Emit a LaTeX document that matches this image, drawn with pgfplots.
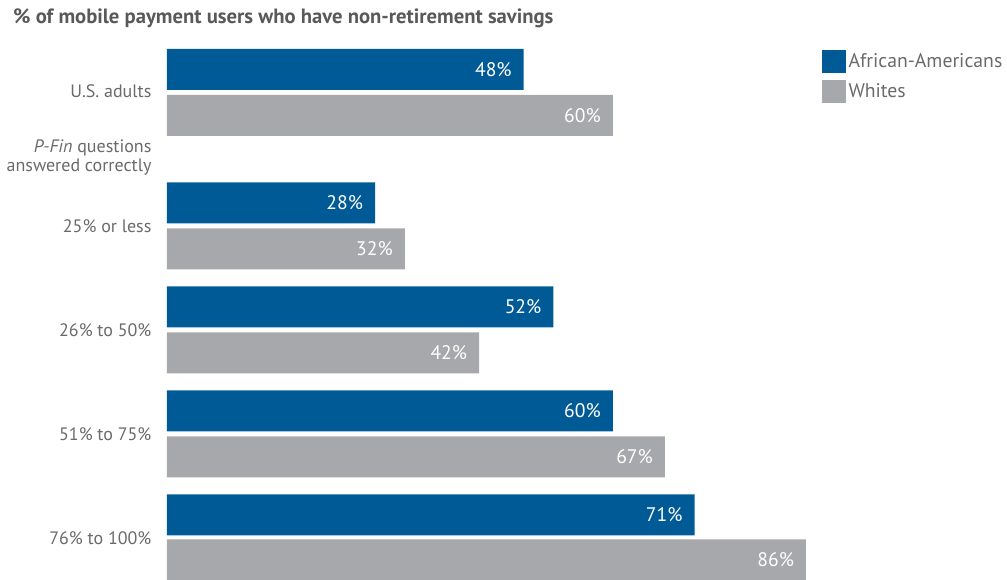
\documentclass[border=0pt]{standalone}
\usepackage{pgfplots}
\pgfplotsset{compat=1.18}
\usepackage{fontspec}
\setmainfont{PT Sans}
\definecolor{aablue}{RGB}{0,90,150}
\definecolor{whgray}{RGB}{167,168,171}
\definecolor{titlegray}{RGB}{88,89,91}
\definecolor{labgray}{RGB}{105,106,108}
\begin{document}
\begin{tikzpicture}
\begin{axis}[
    scale only axis,
    width=755.25pt, height=435pt,
    xmin=-22.476, xmax=113.055,
    ymin=0, ymax=580, y dir=reverse,
    hide axis,
    xbar, bar shift=0pt, bar width=41,
    nodes near coords={\pgfmathprintnumber{\pgfplotspointmeta}\%},
    every node near coord/.append style={anchor=east, xshift=-5.5pt, text=white,
        font=\fontsize{14.7}{16}\selectfont},
    /pgf/number format/assume math mode=true,
    legend style={draw=none, fill=none, at={(axis cs:88.1,50)}, anchor=north west,
        inner sep=0pt, row sep=5pt, font=\fontsize{14.8}{16}\selectfont,
        text=labgray, cells={anchor=west}},
    legend image code/.code={\fill[#1] (0pt,-8.6pt) rectangle (18pt,8.6pt);},
    clip=false,
]
\addplot[draw=none, fill=aablue] coordinates {(48,69.5) (28,203) (52,307) (60,411) (71,515)};
\addplot[draw=none, fill=whgray] coordinates {(60,115.5) (32,249) (42,353) (67,457) (86,560)};
\legend{African-Americans, Whites}

\begin{scope}[every node/.style={inner sep=0pt, anchor=east, text=labgray,
    font=\fontsize{13.5}{16}\selectfont, xshift=-11.5pt}]
\node at (axis cs:0,91) {U.S. adults};
\node[align=right, font=\fontsize{13.5}{14.3}\selectfont] at (axis cs:0,157.5) {\textit{P-Fin} questions\\answered correctly};
\node at (axis cs:0,226) {25\% or less};
\node at (axis cs:0,330) {26\% to 50\%};
\node at (axis cs:0,434) {51\% to 75\%};
\node at (axis cs:0,538) {76\% to 100\%};
\end{scope}
\node[inner sep=0pt, anchor=west, text=titlegray, font=\fontsize{15.5}{18}\selectfont\bfseries]
    at (axis cs:-20.73,18) {\% of mobile payment users who have non-retirement savings};
\end{axis}
\pgfresetboundingbox
\path (current axis.south west) rectangle (current axis.north east);
\end{tikzpicture}
\end{document}
